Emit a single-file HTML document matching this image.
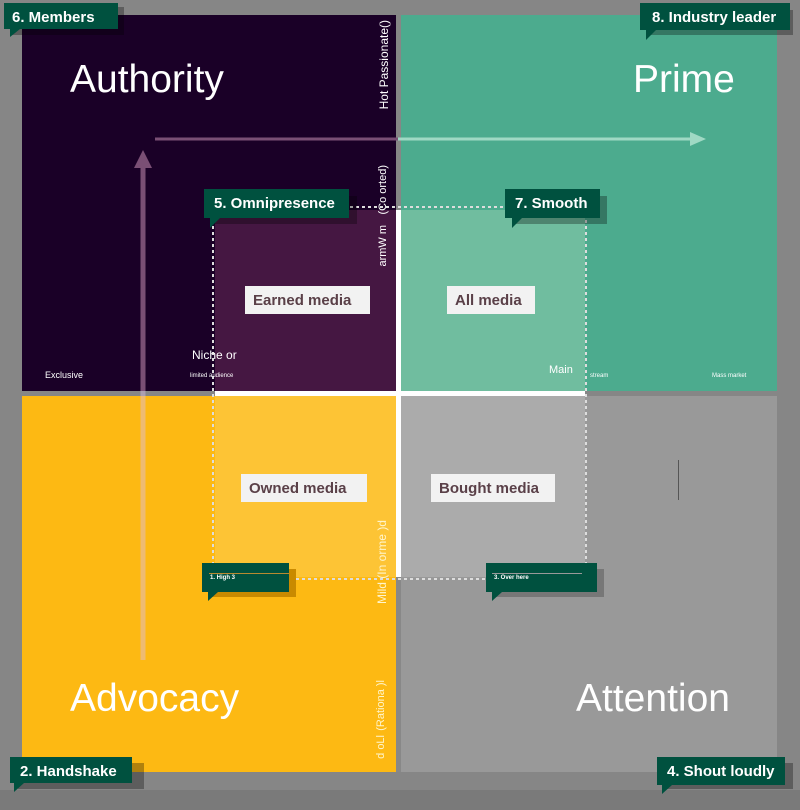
<!DOCTYPE html>
<html><head><style>
body{margin:0;width:800px;height:810px;background:#868686;position:relative;overflow:hidden;font-family:"Liberation Sans",sans-serif}
div{position:absolute;box-sizing:border-box}
.big{color:#fff;font-size:39px}
.cb{background:#00513f;color:#fff;font-weight:bold;font-size:15px;padding:6px 8px 4px;white-space:nowrap}
.sh{background:rgba(0,0,0,0.3)}
.lbl{background:#f2f2f2;color:#5a4048;font-weight:bold;font-size:15px;padding:6px 8px}
.v{color:#fff;font-size:11px;writing-mode:vertical-rl;transform:rotate(180deg)}
.sm{color:#fff;font-size:8px}
</style></head><body>
<div style="left:0;top:790px;width:800px;height:20px;background:#7a7a7a"></div>
<div style="left:22px;top:15px;width:374px;height:376px;background:#1a0027"></div>
<div style="left:215px;top:210px;width:181px;height:181px;background:#451742"></div>
<div style="left:401px;top:15px;width:376px;height:376px;background:#4cab8e"></div>
<div style="left:401px;top:210px;width:184px;height:181px;background:#70bd9f"></div>
<div style="left:22px;top:396px;width:374px;height:376px;background:#fdb913"></div>
<div style="left:215px;top:396px;width:181px;height:181px;background:#fdc435"></div>
<div style="left:401px;top:396px;width:376px;height:376px;background:#999"></div>
<div style="left:401px;top:396px;width:184px;height:181px;background:#ababab"></div>
<div style="left:215px;top:391px;width:370px;height:5px;background:#fff"></div>
<div style="left:396px;top:210px;width:5px;height:367px;background:#fff"></div>
<div style="left:396px;top:577px;width:5px;height:195px;background:#888"></div>
<svg width="800" height="810" style="position:absolute;left:0;top:0">
<line x1="155" y1="139" x2="398" y2="139" stroke="#7a4f75" stroke-width="3"/>
<line x1="398" y1="139" x2="690" y2="139" stroke="#9fd9c4" stroke-width="3"/>
<polygon points="690,132 706,139 690,146" fill="#9fd9c4"/>
<line x1="143" y1="660" x2="143" y2="165" stroke="rgba(220,190,230,0.45)" stroke-width="5"/>
<line x1="143" y1="391" x2="143" y2="165" stroke="#7a4f75" stroke-width="5"/>
<polygon points="134,168 143,150 152,168" fill="#7a4f75"/>
<g stroke="#ddd" stroke-width="2" stroke-dasharray="3,3" fill="none">
<line x1="213" y1="220" x2="213" y2="575"/>
<line x1="350" y1="207" x2="505" y2="207"/>
<line x1="586" y1="220" x2="586" y2="575"/>
<line x1="290" y1="579" x2="486" y2="579"/>
</g>
</svg>
<div class="big" style="left:70px;top:58px">Authority</div>
<div class="big" style="left:633px;top:58px">Prime</div>
<div class="big" style="left:70px;top:677px">Advocacy</div>
<div class="big" style="left:576px;top:677px">Attention</div>
<div class="lbl" style="left:245px;top:286px;width:125px;height:28px">Earned media</div>
<div class="lbl" style="left:447px;top:286px;width:88px;height:28px">All media</div>
<div class="lbl" style="left:241px;top:474px;width:126px;height:28px">Owned media</div>
<div class="lbl" style="left:431px;top:474px;width:124px;height:28px">Bought media</div>
<div class="v" style="left:377px;top:20px;font-size:12px">Hot Passionate()</div>
<div class="v" style="left:377px;top:165px">(Co orted)</div>
<div class="v" style="left:377px;top:225px">armW m</div>
<div class="v" style="left:375px;top:520px;color:#fff5cc;font-size:12px">Mild (In orme )d</div>
<div class="v" style="left:375px;top:680px;color:#fff5cc">(Rationa )l</div>
<div class="v" style="left:375px;top:735px;color:#fff5cc">d oLl</div>
<div class="sm" style="left:45px;top:370px;font-size:9px">Exclusive</div>
<div style="left:192px;top:348px;color:#fff;font-size:12px">Niche or</div>
<div class="sm" style="left:190px;top:373px;font-size:6px">limited audience</div>
<div style="left:549px;top:364px;color:#fff;font-size:11px">Main</div>
<div class="sm" style="left:590px;top:373px;font-size:6px">stream</div>
<div class="sm" style="left:712px;top:373px;font-size:6px">Mass market</div>
<div style="left:678px;top:460px;width:1px;height:40px;background:#555"></div>

<div class="sh" style="left:12px;top:7px;width:112px;height:28px"></div>
<div class="cb" style="left:4px;top:3px;width:114px;height:26px">6. Members</div>
<div style="left:10px;top:29px;width:0;height:0;border-right:10px solid transparent;border-top:8px solid #00513f"></div>
<div class="sh" style="left:648px;top:10px;width:145px;height:25px"></div>
<div class="cb" style="left:640px;top:3px;width:150px;height:27px;padding-left:12px">8. Industry leader</div>
<div style="left:646px;top:30px;border-right:10px solid transparent;border-top:10px solid #00513f"></div>
<div class="sh" style="left:212px;top:196px;width:145px;height:28px"></div>
<div class="cb" style="left:204px;top:189px;width:145px;height:29px;padding-left:10px">5. Omnipresence</div>
<div style="left:210px;top:218px;border-right:10px solid transparent;border-top:10px solid #00513f"></div>
<div class="sh" style="left:512px;top:196px;width:95px;height:28px"></div>
<div class="cb" style="left:505px;top:189px;width:95px;height:29px;padding-left:10px">7. Smooth</div>
<div style="left:512px;top:218px;border-right:10px solid transparent;border-top:10px solid #00513f"></div>
<div class="sh" style="left:18px;top:763px;width:126px;height:26px"></div>
<div class="cb" style="left:10px;top:757px;width:122px;height:26px;padding-left:10px">2. Handshake</div>
<div style="left:14px;top:783px;border-right:10px solid transparent;border-top:9px solid #00513f"></div>
<div class="sh" style="left:665px;top:763px;width:128px;height:26px"></div>
<div class="cb" style="left:657px;top:757px;width:128px;height:28px;padding-left:10px">4. Shout loudly</div>
<div style="left:662px;top:785px;border-right:10px solid transparent;border-top:9px solid #00513f"></div>
<div class="sh" style="left:209px;top:569px;width:87px;height:28px;background:#c98a00"></div>
<div class="cb" style="left:202px;top:563px;width:87px;height:29px;font-size:6px;padding-top:12px">1. High 3</div>
<div style="left:208px;top:592px;border-right:10px solid transparent;border-top:9px solid #00513f"></div>
<div class="sh" style="left:493px;top:569px;width:111px;height:28px;background:#777"></div>
<div class="cb" style="left:486px;top:563px;width:111px;height:29px;font-size:6px;padding-top:12px">3. Over here</div>
<div style="left:492px;top:592px;border-right:10px solid transparent;border-top:9px solid #00513f"></div>
<div style="left:209px;top:573px;width:80px;height:1px;background:#b88a30"></div>
<div style="left:492px;top:573px;width:90px;height:1px;background:#999"></div>
</body></html>
